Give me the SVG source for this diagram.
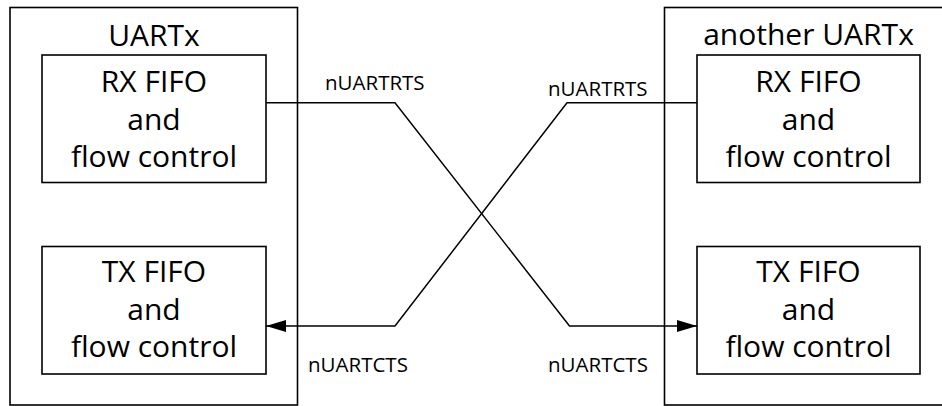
<svg xmlns="http://www.w3.org/2000/svg" width="942" height="406" viewBox="0 0 942 406">
<defs>
<style>
.box{fill:#fff;stroke:#000;stroke-width:1.6}
.outer{fill:none;stroke:#000;stroke-width:1.6}
.t{font-family:"Open Sans","Noto Sans",sans-serif;font-size:30px;fill:#000;text-anchor:middle}
.lbl{font-family:"Open Sans","Noto Sans",sans-serif;font-size:20.5px;fill:#000}
.wire{fill:none;stroke:#000;stroke-width:1.5}
</style>
<marker id="arr" markerWidth="20" markerHeight="12" refX="20" refY="6" orient="auto" markerUnits="userSpaceOnUse">
<path d="M0,0 L20,6 L0,12 Z" fill="#000"/>
</marker>
</defs>
<g id="uartx">
<rect class="outer" x="10" y="7.5" width="287.5" height="397.5"/>
<text class="t" x="154" y="46">UARTx</text>
</g>
<g id="another-uartx">
<rect class="outer" x="664.5" y="7.5" width="290" height="397.5"/>
<text class="t" x="808.5" y="45">another UARTx</text>
</g>
<g id="rx-left">
<rect class="box" x="42" y="55" width="224" height="127.5"/>
<text class="t" x="154" y="92">RX FIFO</text>
<text class="t" x="154" y="129.5">and</text>
<text class="t" x="154" y="167">flow control</text>
</g>
<g id="tx-left">
<rect class="box" x="42" y="246.5" width="224" height="127.5"/>
<text class="t" x="154" y="282">TX FIFO</text>
<text class="t" x="154" y="319.5">and</text>
<text class="t" x="154" y="357">flow control</text>
</g>
<g id="rx-right">
<rect class="box" x="697" y="55" width="223" height="127.5"/>
<text class="t" x="808.5" y="92">RX FIFO</text>
<text class="t" x="808.5" y="129.5">and</text>
<text class="t" x="808.5" y="167">flow control</text>
</g>
<g id="tx-right">
<rect class="box" x="697" y="246.5" width="223" height="127.5"/>
<text class="t" x="808.5" y="282">TX FIFO</text>
<text class="t" x="808.5" y="319.5">and</text>
<text class="t" x="808.5" y="357">flow control</text>
</g>
<g id="connectors">
<polyline class="wire" points="266,102.7 395,102.7 569.5,326 697,326" marker-end="url(#arr)"/>
<polyline class="wire" points="697,102.7 567,102.7 395,326 266,326" marker-end="url(#arr)"/>
<text class="lbl" x="325" y="90">nUARTRTS</text>
<text class="lbl" x="548" y="96">nUARTRTS</text>
<text class="lbl" x="308" y="372">nUARTCTS</text>
<text class="lbl" x="548" y="372">nUARTCTS</text>
</g>
</svg>
